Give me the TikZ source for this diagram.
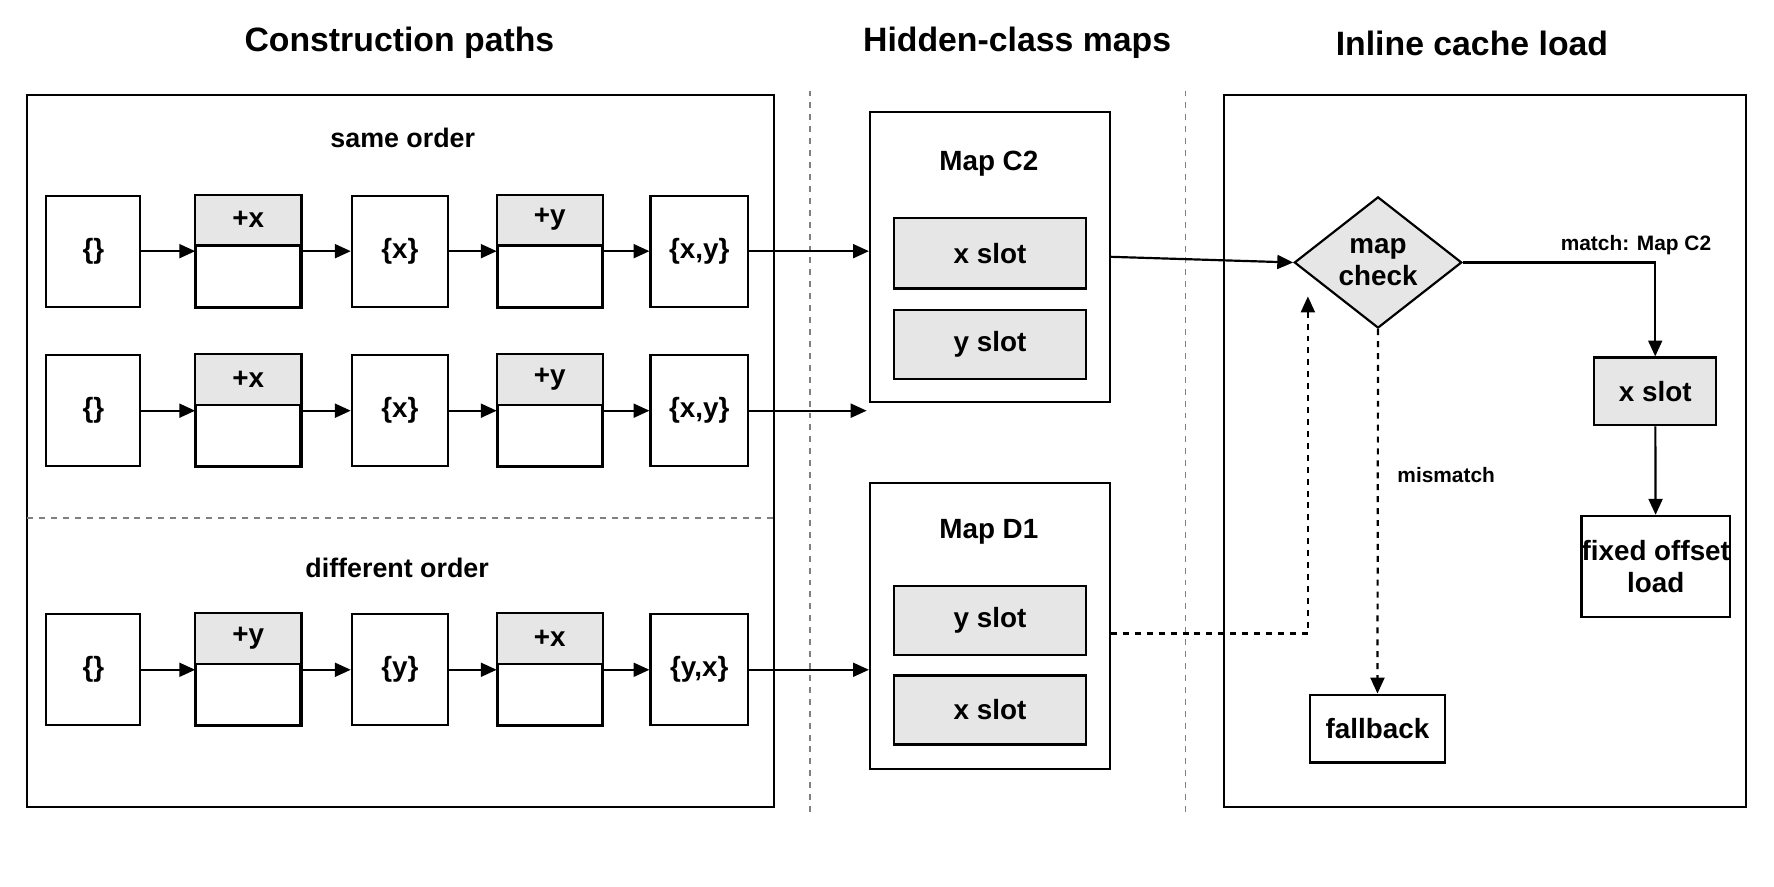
\documentclass[tikz,border=0pt]{standalone}
\usepackage{fontspec}
\setmainfont{Liberation Sans}
\usetikzlibrary{arrows.meta,shapes.geometric}
\definecolor{gf}{HTML}{E6E6E6}
\tikzset{
 x=0.02cm,y=-0.02cm,
 every node/.style={font=\bfseries\fontsize{14}{16}\selectfont},
 bx/.style={draw,line width=1.1pt,inner sep=0pt},
 ar/.style={-{Triangle[length=8pt,width=7pt]},line width=1.1pt},
 dar/.style={ar,dashed},
 sep/.style={draw=gray,dashed,line width=0.7pt},
 ttl/.style={font=\bfseries\fontsize{17}{20}\selectfont},
 sub/.style={font=\bfseries\fontsize{13.5}{16}\selectfont},
 lab/.style={font=\bfseries\fontsize{10.5}{12}\selectfont},
}
\newcommand{\bx}[7]{\node[bx,minimum width=#4*0.02cm,minimum height=#5*0.02cm,#6] (#1) at (#2,#3) {#7};}
% split box: name cx cy label
\newcommand{\spl}[4]{%
 \node[bx,minimum width=92*0.02cm,minimum height=98*0.02cm] (#1) at (#2,#3) {};
 \fill[gf] (#1.north west) rectangle ([yshift=-45*0.02cm]#1.north east);
 \draw[line width=1.1pt] (#1.north west) rectangle (#1.south east);
 \draw[line width=1.1pt] ([yshift=-45*0.02cm]#1.north west) -- ([yshift=-45*0.02cm]#1.north east);
 \node at ([yshift=-22*0.02cm]#1.north) {#4};}
\begin{document}
\begin{tikzpicture}
\useasboundingbox (0,0) rectangle (1568,784);
\node[ttl] (t1) at (353,38) {Construction paths};
\node[ttl] (t2) at (899,38) {Hidden-class maps};
\node[ttl] (t3) at (1301,38) {Inline cache load};
\draw[line width=1.1pt] (24,84) rectangle (684,713);
\draw[line width=1.1pt] (1082,84) rectangle (1543,713);
\draw[gray,dashed,line width=0.7pt] (24,458) -- (684,458);
\draw[sep] (716,80) -- (716,718);
\draw[sep] (1048,80) -- (1048,718);
\node[sub] (so) at (356,122) {same order};
\node[sub] (do) at (351,502) {different order};
% rows
\foreach \r/\cy/\a/\b/\c/\d/\e in {1/222/{\{\}}/+x/{\{x\}}/+y/{\{x,y\}}, 2/363/{\{\}}/+x/{\{x\}}/+y/{\{x,y\}}, 3/592/{\{\}}/+y/{\{y\}}/+x/{\{y,x\}}}{
 \bx{a\r}{82.5}{\cy}{83}{98}{}{\a}
 \spl{b\r}{219.5}{\cy}{\b}
 \bx{c\r}{353.5}{\cy}{85}{98}{}{\c}
 \spl{d\r}{486}{\cy}{\d}
 \bx{e\r}{618}{\cy}{86}{98}{}{\e}
 \draw[ar] (a\r) -- (b\r);
 \draw[ar] (b\r) -- (c\r);
 \draw[ar] (c\r) -- (d\r);
 \draw[ar] (d\r) -- (e\r);
}
% maps
\bx{mc}{875}{227}{212}{256}{}{}
\node (mct) at (874,145) {Map C2};
\bx{mcx}{875}{224}{170}{62}{fill=gf}{x slot}
\bx{mcy}{875}{304.5}{170}{61}{fill=gf}{y slot}
\bx{md}{875}{553.5}{212}{253}{}{}
\node (mdt) at (874,470) {Map D1};
\bx{mdy}{875}{548.5}{170}{61}{fill=gf}{y slot}
\bx{mdx}{875}{627.5}{170}{61}{fill=gf}{x slot}
\draw[ar] (e1.east) -- (mc.west |- e1.east);
\coordinate (r2end) at (766,363);
\draw[ar] (e2.east) -- (r2end);
\draw[ar] (e3.east) -- (md.west |- e3.east);
% inline cache
\node[diamond,draw,line width=1.1pt,fill=gf,minimum width=148*0.02cm,minimum height=116*0.02cm,inner sep=0pt,align=center] (mck) at (1218,232) {map\\check};
\draw[ar] (mc.east |- 0,227) -- (mck.west);
\bx{xs}{1463}{346}{108}{60}{fill=gf}{x slot}
\bx{fo}{1463.5}{500.5}{125}{89}{align=center}{fixed offset\\load}
\bx{fb}{1217.5}{644}{119}{60}{}{fallback}
\draw[ar] (mck.east) -| node[lab,pos=0.45,above] {match: Map C2} (xs.north);
\draw[ar] (xs) -- (fo);
\draw[dar] (mck.south) -- node[lab,pos=0.4,right=6pt] {mismatch} (fb.north);
\coordinate (dend) at (1156,262);
\draw[dar] (md.east |- 0,560) -| (dend);
\end{tikzpicture}
\end{document}
